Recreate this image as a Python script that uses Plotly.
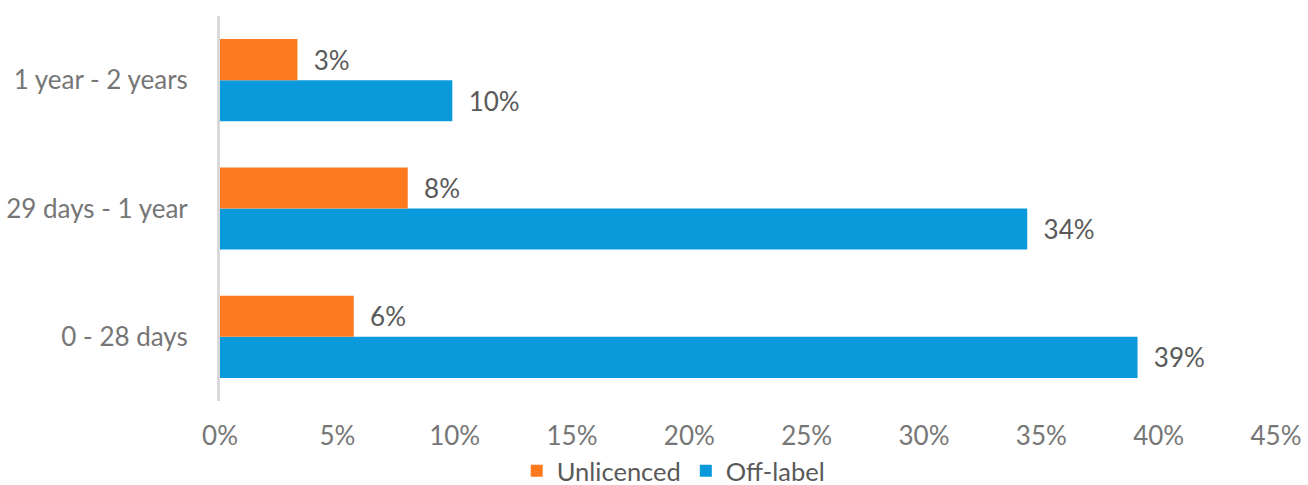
import plotly.graph_objects as go

categories = ["0 - 28 days", "29 days - 1 year", "1 year - 2 years"]
unlicenced = [5.7, 8.0, 3.3]
off_label = [39.1, 34.4, 9.9]
tick_vals = [0, 5, 10, 15, 20, 25, 30, 35, 40, 45]
tick_text = [f"{v}%" for v in tick_vals]

NB = "\u00a0"
FS = 26
fig = go.Figure()
fig.add_trace(go.Bar(
    y=categories, x=off_label, orientation="h", name="Off-label",
    marker=dict(color="#0A9ADB", line=dict(width=0)),
    text=[f"{NB*2}{round(v)}%" for v in off_label], textposition="outside",
    textfont=dict(color="#595959", size=FS), cliponaxis=False,
))
fig.add_trace(go.Bar(
    y=categories, x=unlicenced, orientation="h", name="Unlicenced",
    marker=dict(color="#FF7A1F", line=dict(width=0)),
    text=[f"{NB*2}{round(v)}%" for v in unlicenced], textposition="outside",
    textfont=dict(color="#595959", size=FS), cliponaxis=False,
))

fig.update_layout(
    width=1308, height=485,
    margin=dict(l=220, r=32, t=16, b=84, autoexpand=False),
    paper_bgcolor="white", plot_bgcolor="white",
    barmode="group", bargap=0.36, bargroupgap=0,
    font=dict(family="Lato, Carlito, sans-serif", size=FS, color="#595959"),
    showlegend=True,
    legend=dict(orientation="h", x=0.281, xanchor="left", y=-0.182, yanchor="middle",
                traceorder="reversed", font=dict(size=25.5, color="#595959"),
                itemwidth=30, bgcolor="rgba(0,0,0,0)"),
    xaxis=dict(range=[0, 45], tickvals=tick_vals, ticktext=tick_text,
               showgrid=False, zeroline=False, showline=False, automargin=False,
               tickfont=dict(size=FS, color="#767676"), ticklabelstandoff=17,
               fixedrange=True),
    yaxis=dict(showgrid=False, zeroline=False, showline=True, linecolor="#D9D9D9",
               linewidth=3, tickfont=dict(size=FS, color="#767676"), automargin=False,
               ticklabelstandoff=24, fixedrange=True),
)

fig.write_html("out.html", config={"displayModeBar": False},
               post_script="document.body.style.margin='0';")
